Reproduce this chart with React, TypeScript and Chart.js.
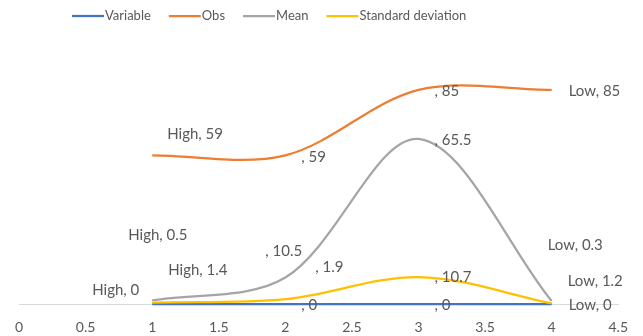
import React, { useEffect, useRef } from "react";
import { Chart, registerables } from "chart.js";

Chart.register(...registerables);

// Category names shown in the data labels, and their x positions
const categories = ["High", "", "", "Low"];
const xValues = [1, 2, 3, 4];

// Series values
const variableValues = [0, 0, 0, 0];
const obsValues = [59, 59, 85, 85];
const meanValues = [1.4, 10.5, 65.5, 1.2];
const sdValues = [0.5, 1.9, 10.7, 0.3];

// X axis ticks
const xTickMin = 0;
const xTickMax = 4.5;
const xTickStep = 0.5;

const seriesNames = ["Variable", "Obs", "Mean", "Standard deviation"];
const seriesColors = ["#4472C4", "#ED7D31", "#A5A5A5", "#FFC000"];

// Label placement (text left edge / vertical middle) relative to each point, per series
const labelOffsets: [number, number][][] = [
  [[-60, -14], [16, 1], [16, 1], [17, 1]],
  [[15, -21], [16, 2], [16, 1], [17, 1]],
  [[16, -30], [-20, -26], [16, 1], [16, -20]],
  [[-24, -68], [30, -32], [16, 0], [-4, -58]],
];

const FONT = "Lato, 'Open Sans', sans-serif";
const TEXT_COLOR = "#595959";

const labelPlugin = {
  id: "pointLabels",
  afterDatasetsDraw(chart: any) {
    const ctx = chart.ctx;
    ctx.save();
    ctx.font = `15px ${FONT}`;
    ctx.fillStyle = TEXT_COLOR;
    ctx.textAlign = "left";
    ctx.textBaseline = "middle";
    chart.data.datasets.forEach((ds: any, i: number) => {
      const meta = chart.getDatasetMeta(i);
      meta.data.forEach((el: any, j: number) => {
        const [dx, dy] = labelOffsets[i][j];
        const text = `${categories[j]}, ${ds.data[j].y}`;
        ctx.fillText(text, el.x + dx, el.y + dy);
      });
    });
    ctx.restore();
  },
};

const legendPlugin = {
  id: "lineLegend",
  afterDraw(chart: any) {
    const ctx = chart.ctx;
    ctx.save();
    ctx.font = `13px ${FONT}`;
    ctx.textAlign = "left";
    ctx.textBaseline = "middle";
    let x = 72;
    const y = 16;
    const lineLen = 32;
    seriesNames.forEach((name, i) => {
      ctx.strokeStyle = seriesColors[i];
      ctx.lineWidth = 2.25;
      ctx.beginPath();
      ctx.moveTo(x, y);
      ctx.lineTo(x + lineLen, y);
      ctx.stroke();
      x += lineLen + 1;
      ctx.fillStyle = TEXT_COLOR;
      ctx.fillText(name, x, y);
      x += ctx.measureText(name).width + 18;
    });
    ctx.restore();
  },
};

export default function App() {
  const canvasRef = useRef<HTMLCanvasElement | null>(null);

  useEffect(() => {
    if (!canvasRef.current) return;
    const allValues = [variableValues, obsValues, meanValues, sdValues];
    const chart = new Chart(canvasRef.current, {
      type: "line",
      data: {
        datasets: allValues.map((vals, i) => ({
          label: seriesNames[i],
          data: vals.map((v, j) => ({ x: xValues[j], y: v })),
          borderColor: seriesColors[i],
          backgroundColor: seriesColors[i],
          borderWidth: 2.25,
          pointRadius: 0,
          tension: 0.33,
          fill: false,
          clip: false as any,
          order: allValues.length - i,
        })),
      },
      options: {
        animation: false,
        responsive: false,
        maintainAspectRatio: false,
        layout: { padding: { left: 15, right: 12, top: 52, bottom: 0 } },
        plugins: {
          legend: { display: false },
          tooltip: { enabled: false },
        },
        scales: {
          x: {
            type: "linear",
            min: xTickMin,
            max: xTickMax,
            afterFit: (scale: any) => {
              scale.height = 32;
            },
            ticks: {
              stepSize: xTickStep,
              color: TEXT_COLOR,
              font: { family: FONT, size: 14 },
              padding: 15,
              maxRotation: 0,
              callback: (v: any) => String(v),
            },
            grid: { display: false, drawTicks: false },
            border: { display: true, color: "#D9D9D9", width: 1 },
          },
          y: {
            display: false,
            min: 0,
            max: 100,
          },
        },
      },
      plugins: [labelPlugin, legendPlugin],
    });
    return () => chart.destroy();
  }, []);

  return (
    <div style={{ position: "fixed", left: 0, top: 0, width: 643, height: 336, background: "#fff" }}>
      <canvas ref={canvasRef} width={643} height={336} style={{ width: 643, height: 336 }} />
    </div>
  );
}
